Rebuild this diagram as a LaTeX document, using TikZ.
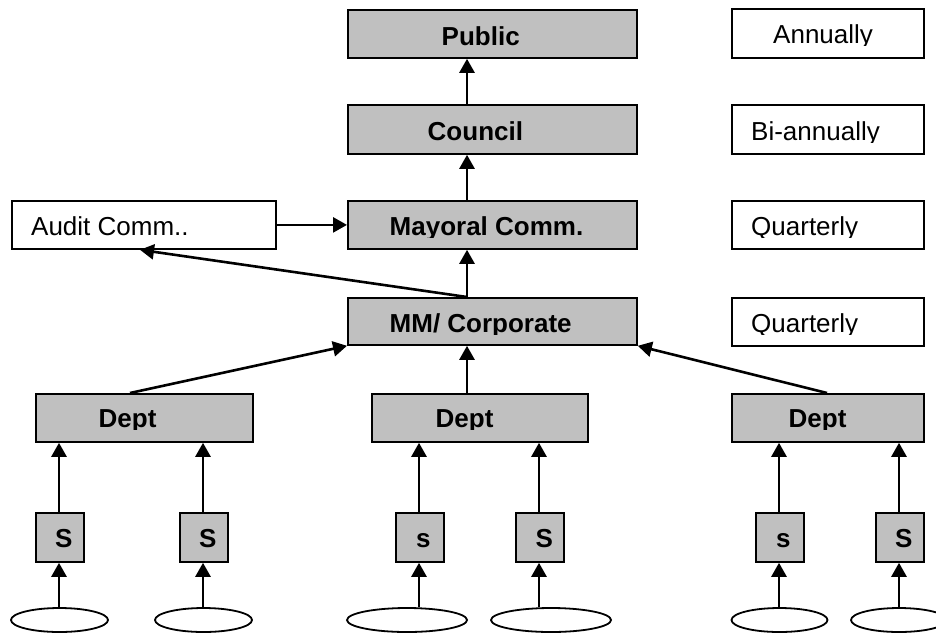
\documentclass[tikz,border=0pt]{standalone}
\usepackage{fontspec}
\setmainfont{Liberation Sans}
\usetikzlibrary{arrows.meta,shapes.geometric}
\definecolor{boxgray}{RGB}{192,192,192}

% text clipped just below its baseline, as in the boxes it sits in
% #1 name, #2 style, #3 x, #4 baseline y, #5 text
\newcommand\boxlabel[5]{%
  \begin{scope}
    \clip ({#3-30},{#4-40}) rectangle ({#3+260},{#4+2.5});
    \node[#2, anchor=base west] (#1) at (#3,#4) {#5};
  \end{scope}}

\begin{document}
\begin{tikzpicture}[x=1pt,y=-1pt,
  box/.style={draw=black, line width=1.8pt, rectangle, inner sep=0pt, anchor=north west},
  gbox/.style={box, fill=boxgray},
  wbox/.style={box, fill=white},
  src/.style={draw=black, line width=1.8pt, ellipse, inner sep=0pt, fill=white},
  lbl/.style={inner sep=0pt, font=\fontsize{26}{30}\selectfont},
  blbl/.style={lbl, font=\fontsize{26}{30}\selectfont\bfseries},
  arr/.style={draw=black, line width=2.6pt, -{Triangle[length=14pt,width=15pt]}},
  link/.style={draw=black, line width=2.6pt}]
\useasboundingbox (0,0) rectangle (936,633);

% main chain
\node[gbox, minimum width=289, minimum height=48] (public)  at (347,9)   {};
\node[gbox, minimum width=289, minimum height=49] (council) at (347,104) {};
\node[gbox, minimum width=289, minimum height=48] (mayor)   at (347,200) {};
\node[gbox, minimum width=289, minimum height=47] (mm)      at (347,297) {};
\node[wbox, minimum width=264, minimum height=48] (audit)   at (11,200)  {};

% reporting frequency
\node[wbox, minimum width=192, minimum height=49] (annual) at (731,8)   {};
\node[wbox, minimum width=192, minimum height=49] (biann)  at (731,104) {};
\node[wbox, minimum width=192, minimum height=48] (qtrA)   at (731,200) {};
\node[wbox, minimum width=192, minimum height=48] (qtrB)   at (731,297) {};

% departments
\node[gbox, minimum width=217, minimum height=48] (deptL) at (35,393)  {};
\node[gbox, minimum width=216, minimum height=48] (deptM) at (371,393) {};
\node[gbox, minimum width=192, minimum height=48] (deptR) at (731,393) {};

% sections
\foreach \n/\x in {sA/35, sB/179, sC/395, sD/515, sE/755, sF/875}
  \node[gbox, minimum width=48, minimum height=49] (\n) at (\x,512) {};

% sources
\node[src, minimum width=97,  minimum height=24] (eA) at (59.5,620)  {};
\node[src, minimum width=97,  minimum height=24] (eB) at (203.5,620) {};
\node[src, minimum width=120, minimum height=24] (eC) at (407,620)   {};
\node[src, minimum width=120, minimum height=24] (eD) at (551,620)   {};
\node[src, minimum width=96,  minimum height=24] (eE) at (779.5,620) {};
\node[src, minimum width=96,  minimum height=24] (eF) at (899,620)   {};

% labels
\boxlabel{tPublic}{blbl}{441.5}{45}{Public}
\boxlabel{tCouncil}{blbl}{427.5}{140}{Council}
\boxlabel{tMayor}{blbl}{389.5}{235}{Mayoral Comm.}
\boxlabel{tMM}{blbl}{389.5}{332}{MM/ Corporate}
\boxlabel{tAudit}{lbl}{31}{235}{Audit Comm..}
\boxlabel{tAnnual}{lbl}{773}{43}{Annually}
\boxlabel{tBiann}{lbl}{751}{140}{Bi-annually}
\boxlabel{tQtrA}{lbl}{751}{235}{Quarterly}
\boxlabel{tQtrB}{lbl}{751}{332}{Quarterly}
\boxlabel{tDeptL}{blbl}{98.5}{427}{Dept}
\boxlabel{tDeptM}{blbl}{435.5}{427}{Dept}
\boxlabel{tDeptR}{blbl}{788.5}{427}{Dept}
\node[blbl, anchor=base west] (tsA) at (55,547)  {S};
\node[blbl, anchor=base west] (tsB) at (199,547) {S};
\node[blbl, anchor=base west] (tsC) at (416,547) {s};
\node[blbl, anchor=base west] (tsD) at (535.5,547) {S};
\node[blbl, anchor=base west] (tsE) at (776,547) {s};
\node[blbl, anchor=base west] (tsF) at (895,547) {S};

% connector columns
\coordinate (spine) at (467,0);
\coordinate (auditIn) at (140,0);
\coordinate (dlOut) at (130,0);
\coordinate (drOut) at (827,0);

\draw[arr] (council.north -| spine) -- (public.south -| spine);
\draw[arr] (mayor.north -| spine) -- (council.south -| spine);
\draw[arr] (mm.north -| spine) -- (mayor.south -| spine);
\draw[arr] (audit.east) -- (audit.east -| mayor.west);
\draw[arr] (mm.north -| spine) -- (audit.south -| auditIn);

\draw[arr] (deptL.north -| dlOut) -- (mm.south west);
\draw[arr] (deptM.north -| spine) -- (mm.south -| spine);
\draw[arr] (deptR.north -| drOut) -- (mm.south east);

\foreach \s/\e/\d/\x in {sA/eA/deptL/59, sB/eB/deptL/203, sC/eC/deptM/419,
                         sD/eD/deptM/539, sE/eE/deptR/779, sF/eF/deptR/899} {
  \coordinate (col) at (\x,0);
  \draw[arr] (\s.north -| col) -- (\d.south -| col);
  \draw[arr] (\e.north -| col) -- (\s.south -| col);
}
\end{tikzpicture}
\end{document}
